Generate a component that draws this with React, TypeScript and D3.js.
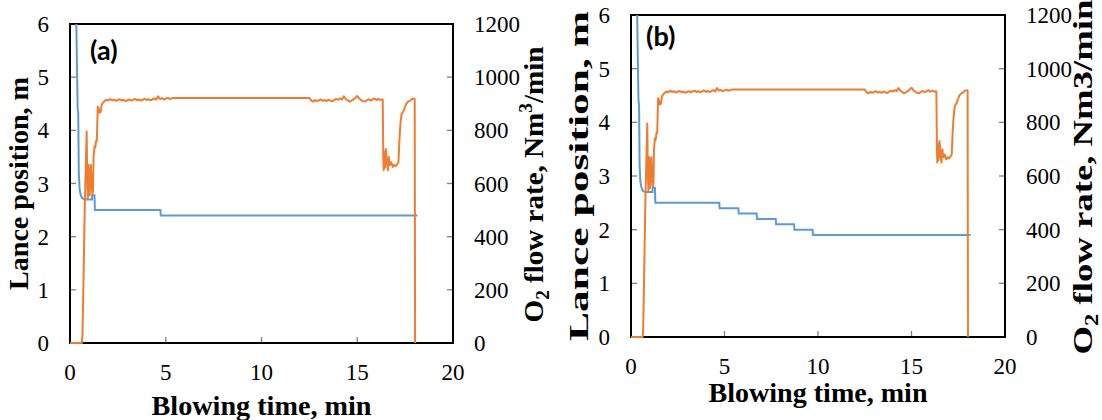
import React from 'react';
import * as d3 from 'd3';

// ---------- DATA ----------
const xTicks = [0, 5, 10, 15, 20];
const lanceTicks = [0, 1, 2, 3, 4, 5, 6];
const flowTicks = [0, 200, 400, 600, 800, 1000, 1200];

// O2 flow rate (Nm3/min), same blowing pattern in both heats
const o2Time = [
  0, 0.62, 0.65, 0.68, 0.72, 0.75, 0.78, 0.82, 0.87, 0.9, 0.93, 0.97, 1.0, 1.03, 1.06, 1.09, 1.13, 1.17, 1.2, 1.23,
  1.28, 1.32, 1.36, 1.4, 1.45, 1.5, 1.55, 1.6, 1.65, 1.7,
  1.8, 1.9, 2.0, 2.1, 2.2, 2.3, 2.4, 2.5, 2.6, 2.7, 2.8, 2.9, 3.0, 3.1, 3.2, 3.3, 3.4, 3.5, 3.6, 3.7,
  3.8, 3.9, 4.0, 4.1, 4.2, 4.3, 4.4, 4.5, 4.6, 4.7, 4.8, 4.9, 5.0, 5.1, 5.2, 5.3,
  5.4, 12.5,
  12.6, 12.7, 12.8, 12.9, 13.0, 13.1, 13.2, 13.3, 13.4, 13.5, 13.6, 13.7, 13.8, 13.9, 14.0, 14.1, 14.2, 14.3, 14.4,
  14.5, 14.6, 14.7, 14.8, 14.9, 15.0, 15.1, 15.2, 15.3, 15.4, 15.5, 15.6, 15.7, 15.8, 15.9, 16.0, 16.1, 16.2, 16.3,
  16.33, 16.36, 16.38, 16.42, 16.45, 16.5, 16.55, 16.6, 16.65, 16.7, 16.78, 16.85, 16.92, 17.0, 17.08, 17.15,
  17.2, 17.26, 17.32, 17.4, 17.48, 17.56, 17.66, 17.76, 17.86, 17.96, 18.0, 18.02
];
const o2Flow = [
  0, 0, 30, 140, 300, 430, 540, 650, 796, 620, 545, 670, 600, 555, 620, 670, 600, 560, 570, 700,
  740, 735, 760, 760, 890, 880, 866, 870, 895, 902,
  910, 915, 912, 918, 913, 916, 911, 914, 917, 912, 915, 910, 913, 916, 912, 915, 918, 913, 916, 912,
  915, 919, 914, 917, 913, 916, 920, 915, 928, 918, 921, 916, 919, 922, 918, 920,
  922, 922,
  912, 908, 914, 910, 913, 916, 911, 914, 910, 915, 912, 909, 914, 918, 915, 920, 916, 928, 918,
  913, 908, 912, 916, 922, 929, 920, 914, 910, 908, 913, 917, 912, 916, 920, 914, 918, 915, 916,
  915, 700, 650, 720, 660, 730, 680, 650, 700, 670, 680, 662, 670, 665, 672, 680,
  760, 830, 862, 870, 885, 900, 908, 912, 918, 920, 918, 0
];

// Lance position (m), heat (a)
const lanceTimeA = [0.33, 0.4, 0.43, 0.46, 0.5, 0.55, 0.62, 0.75, 1.15, 1.16, 1.28, 1.3, 4.72, 4.74, 18.14];
const lanceA = [6.0, 4.4, 4.33, 3.2, 2.9, 2.8, 2.73, 2.7, 2.7, 2.78, 2.78, 2.5, 2.5, 2.4, 2.4];

// Lance position (m), heat (b)
const lanceTimeB = [0.33, 0.4, 0.43, 0.46, 0.5, 0.55, 0.62, 0.75, 1.15, 1.16, 1.28, 1.3,
  4.72, 4.74, 5.74, 5.76, 6.72, 6.74, 7.74, 7.76, 8.72, 8.74, 9.71, 9.73, 18.16];
const lanceB = [6.0, 4.4, 4.33, 3.2, 2.9, 2.8, 2.73, 2.7, 2.7, 2.78, 2.78, 2.5,
  2.5, 2.4, 2.4, 2.3, 2.3, 2.2, 2.2, 2.1, 2.1, 2.0, 2.0, 1.9, 1.9];

// ---------- CHART ----------
const SERIF = '"Liberation Serif", "Times New Roman", serif';
const BLUE = '#5B9BD5';
const ORANGE = '#ED7D31';

type Cfg = {
  id: string; left: number; right: number; top: number; bottom: number;
  lanceT: number[]; lanceV: number[]; tag: string; tagX: number; tagY: number;
  leftTitleX: number; leftTitleLen: number; rightTitleX: number; rightTitleLen: number;
  xLabelY: number; xTitleY: number; xTitleLen: number; superscript: boolean;
};

function Panel({ c }: { c: Cfg }) {
  const x = d3.scaleLinear().domain([0, 20]).range([c.left, c.right]);
  const yL = d3.scaleLinear().domain([0, 6]).range([c.bottom, c.top]);
  const yR = d3.scaleLinear().domain([0, 1200]).range([c.bottom, c.top]);
  const flowLine = d3.line<number>().x((_, i) => x(o2Time[i])).y((v) => yR(v));
  const lanceLine = d3.line<number>().x((_, i) => x(c.lanceT[i])).y((v) => yL(v));
  const midY = (c.top + c.bottom) / 2;
  const tick = 6;
  return (
    <g>
      <defs>
        <clipPath id={'clip' + c.id}>
          <rect x={c.left - 2} y={c.top} width={c.right - c.left + 4} height={c.bottom - c.top + 2} />
        </clipPath>
      </defs>
      {/* ticks inward */}
      {lanceTicks.slice(1, -1).map((t) => (
        <line key={'l' + t} x1={c.left} x2={c.left + tick} y1={yL(t)} y2={yL(t)} stroke="#808080" strokeWidth={1.3} />
      ))}
      {flowTicks.slice(1, -1).map((t) => (
        <line key={'r' + t} x1={c.right - tick} x2={c.right} y1={yR(t)} y2={yR(t)} stroke="#808080" strokeWidth={1.3} />
      ))}
      {xTicks.slice(1, -1).map((t) => (
        <line key={'x' + t} x1={x(t)} x2={x(t)} y1={c.bottom} y2={c.bottom - tick} stroke="#808080" strokeWidth={1.3} />
      ))}
      <rect x={c.left} y={c.top} width={c.right - c.left} height={c.bottom - c.top} fill="none" stroke="#000" strokeWidth={2} />
      <g clipPath={`url(#clip${c.id})`}>
        <path d={lanceLine(c.lanceV) || ''} fill="none" stroke={BLUE} strokeWidth={2} />
        <path d={flowLine(o2Flow) || ''} fill="none" stroke={ORANGE} strokeWidth={2} strokeLinejoin="round" />
      </g>
      {/* tick labels */}
      {lanceTicks.map((t) => (
        <text key={'lt' + t} x={c.left - 21} y={yL(t) + 8} textAnchor="end" fontFamily={SERIF} fontSize={23}>{t}</text>
      ))}
      {flowTicks.map((t) => (
        <text key={'rt' + t} x={c.right + 21} y={yR(t) + 8} textAnchor="start" fontFamily={SERIF} fontSize={23}>{t}</text>
      ))}
      {xTicks.map((t) => (
        <text key={'xt' + t} x={x(t)} y={c.xLabelY} textAnchor="middle" fontFamily={SERIF} fontSize={23}>{t}</text>
      ))}
      {/* titles */}
      <text x={(c.left + c.right) / 2} y={c.xTitleY} textAnchor="middle" fontFamily={SERIF} fontWeight="bold" fontSize={28}
        textLength={c.xTitleLen} lengthAdjust="spacingAndGlyphs">Blowing time, min</text>
      <text transform={`translate(${c.leftTitleX},${midY}) rotate(-90)`} textAnchor="middle" fontFamily={SERIF} fontWeight="bold" fontSize={27}
        textLength={c.leftTitleLen} lengthAdjust="spacingAndGlyphs">Lance position, m</text>
      <text transform={`translate(${c.rightTitleX},${midY + 1}) rotate(-90)`} textAnchor="middle" fontFamily={SERIF} fontWeight="bold" fontSize={27}
        textLength={c.rightTitleLen} lengthAdjust="spacingAndGlyphs">
        O<tspan fontSize={18} dy={6}>2</tspan><tspan dy={-6}> flow rate, Nm</tspan>
        {c.superscript ? (<><tspan fontSize={18} dy={-11}>3</tspan><tspan dy={11}>/min</tspan></>) : <tspan>3/min</tspan>}
      </text>
      <text x={c.tagX} y={c.tagY} fontFamily="Lato, 'Open Sans', sans-serif" fontWeight="bold" fontSize={27}>{c.tag}</text>
    </g>
  );
}

const panelA: Cfg = {
  id: 'a', left: 70, right: 453, top: 24, bottom: 343, lanceT: lanceTimeA, lanceV: lanceA,
  tag: '(a)', tagX: 90, tagY: 60, leftTitleX: 28, leftTitleLen: 213, rightTitleX: 543, rightTitleLen: 276,
  xLabelY: 380, xTitleY: 415, xTitleLen: 220, superscript: true,
};
const panelB: Cfg = {
  id: 'b', left: 631, right: 1005, top: 15, bottom: 337, lanceT: lanceTimeB, lanceV: lanceB,
  tag: '(b)', tagX: 646, tagY: 46, leftTitleX: 588, leftTitleLen: 330, rightTitleX: 1092, rightTitleLen: 355,
  xLabelY: 374, xTitleY: 402, xTitleLen: 219, superscript: false,
};

export default function App() {
  return (
    <svg width={1102} height={420} style={{ position: 'absolute', left: 0, top: 0, background: '#fff' }}>
      <rect width={1102} height={420} fill="#fff" />
      <Panel c={panelA} />
      <Panel c={panelB} />
    </svg>
  );
}
